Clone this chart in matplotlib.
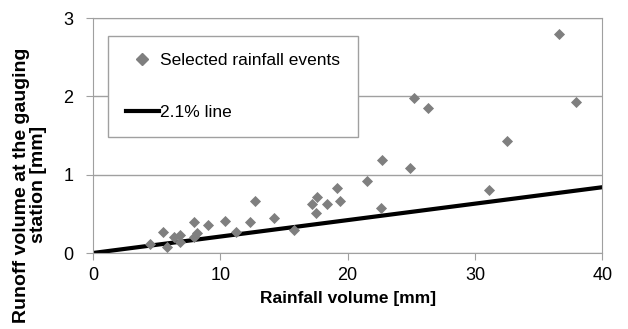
import matplotlib
matplotlib.use("Agg")
import matplotlib.pyplot as plt
from matplotlib.lines import Line2D

plt.rcParams['font.family'] = ['Liberation Sans', 'DejaVu Sans']

# rainfall events
rain = [4.5, 5.5, 5.8, 6.4, 6.8, 6.8, 7.9, 7.9, 8.2, 9.0, 10.4, 11.2, 12.3, 12.7,
        14.2, 15.8, 17.2, 17.6, 17.5, 18.4, 19.2, 19.4, 21.5, 22.7, 22.6, 24.9,
        25.2, 26.3, 31.1, 32.5, 36.6, 37.9]
runoff = [0.12, 0.27, 0.08, 0.21, 0.23, 0.14, 0.39, 0.21, 0.25, 0.36, 0.41, 0.27,
          0.40, 0.67, 0.45, 0.29, 0.63, 0.72, 0.51, 0.63, 0.83, 0.66, 0.92, 1.19,
          0.58, 1.08, 1.98, 1.85, 0.80, 1.43, 2.80, 1.93]
line_x = [0, 40]
ratio = 0.021

fig = plt.figure(figsize=(6.28, 3.29), dpi=100)
ax = fig.add_axes([0.148, 0.231, 0.811, 0.714])

ax.plot(line_x, [v * ratio for v in line_x], color='black', lw=3, zorder=2)
ax.scatter(rain, runoff, marker='D', s=32, color='#7f7f7f', zorder=3, linewidths=0)

ax.set_xlim(0, 40)
ax.set_ylim(0, 3)
ax.set_xticks([0, 10, 20, 30, 40])
ax.set_yticks([0, 1, 2, 3])
ax.yaxis.grid(True, color='#a0a0a0', lw=1)
ax.set_axisbelow(True)
for s in ax.spines.values():
    s.set_color('#a0a0a0')
ax.tick_params(colors='#a0a0a0', labelcolor='black', labelsize=13, length=5)
ax.tick_params(axis='x', pad=5)
ax.tick_params(axis='y', pad=9)

ax.set_xlabel('Rainfall volume [mm]', fontsize=12.5, fontweight='bold')
ax.set_ylabel('Runoff volume at the gauging\nstation [mm]', fontsize=14, fontweight='bold',
              linespacing=1.0)
ax.xaxis.set_label_coords(0.5, -0.16)
ax.yaxis.set_label_coords(-0.09, 0.29)

handles = [Line2D([], [], marker='D', ls='none', color='#7f7f7f', markersize=6),
           Line2D([], [], color='black', lw=3)]
leg = ax.legend(handles, ['Selected rainfall events', '2.1% line'],
                loc='upper left', bbox_to_anchor=(0.03, 0.925), fontsize=12.5,
                fancybox=False, framealpha=1, edgecolor='#a0a0a0',
                labelspacing=2.1, borderpad=1.0, handlelength=1.9, handletextpad=0.1,
                borderaxespad=0)
leg.get_frame().set_linewidth(1)

fig.savefig('out.png', dpi=100)
